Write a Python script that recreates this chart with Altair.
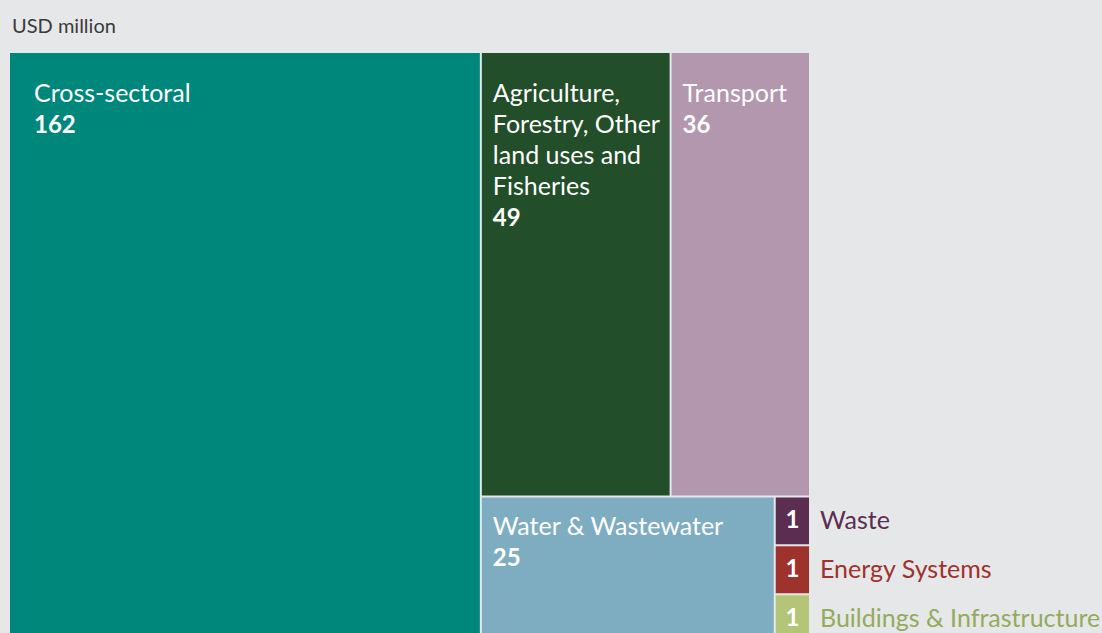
import altair as alt
import pandas as pd

# ---- data ----
sectors = ["Cross-sectoral",
           "Agriculture, Forestry, Other land uses and Fisheries",
           "Transport", "Water & Wastewater", "Waste", "Energy Systems",
           "Buildings & Infrastructure"]
display_labels = ["Cross-sectoral",
                  "Agriculture,\nForestry, Other\nland uses and\nFisheries",
                  "Transport", "Water & Wastewater", "Waste", "Energy Systems",
                  "Buildings & Infrastructure"]
values = [162, 49, 36, 25, 1, 1, 1]
colors = ["#00877b", "#224e29", "#b397ae", "#7eadc1", "#5b2d51", "#9e322d", "#b5c577"]
text_colors = ["#ffffff", "#ffffff", "#ffffff", "#ffffff", "#5b2d51", "#9e322d", "#93ab5c"]

W, H = 799, 589          # treemap size (pixels = data units)
VISIBLE_H = 580          # part of the treemap inside the window
GAP = 1                  # half of the inner gap
LINE_H = 31
FONT = "Lato"
NAME_SIZE = 25
VALUE_SIZE = 24


def squarify(vals, x0, y0, x1, y1, ratio=(1 + 5 ** 0.5) / 2):
    """d3.treemapSquarify layout."""
    rects = [None] * len(vals)
    n = len(vals)
    i0 = i1 = 0
    value = float(sum(vals))
    while i0 < n:
        dx, dy = x1 - x0, y1 - y0
        sumv = vals[i1]
        i1 += 1
        minv = maxv = sumv
        alpha = max(dy / dx, dx / dy) / (value * ratio)
        beta = sumv * sumv * alpha
        minr = max(maxv / beta, beta / minv)
        while i1 < n:
            nv = vals[i1]
            s = sumv + nv
            mn, mx = min(minv, nv), max(maxv, nv)
            beta = s * s * alpha
            nr = max(mx / beta, beta / mn)
            if nr > minr:
                break
            sumv, minv, maxv, minr = s, mn, mx, nr
            i1 += 1
        row = range(i0, i1)
        if dx < dy:
            ny = y0 + dy * sumv / value
            cx = x0
            for i in row:
                w = dx * vals[i] / sumv
                rects[i] = (cx, y0, cx + w, ny)
                cx += w
            y0 = ny
        else:
            nx = x0 + dx * sumv / value
            cy = y0
            for i in row:
                h = dy * vals[i] / sumv
                rects[i] = (x0, cy, nx, cy + h)
                cy += h
            x0 = nx
        value -= sumv
        i0 = i1
    return rects


rects = squarify(values, -GAP, -GAP, W + GAP, H + GAP)

rows = []
for name, lab, v, c, tc, (a, b, cc, d) in zip(sectors, display_labels, values,
                                              colors, text_colors, rects):
    x0, y0, x1, y1 = a + GAP, b + GAP, cc - GAP, d - GAP
    small = (x1 - x0) < 60
    nlines = lab.count("\n") + 1
    lx = x0 + (24 if x0 < 1 else 11)
    ly = y0 + (49 if y0 < 1 else 37)
    rows.append(dict(sector=name, label=lab, value=v, color=c, tcolor=tc,
                     x0=x0, y0=y0, x1=x1, y1=y1, small=small,
                     lx=lx, ly=ly, vy=ly + nlines * LINE_H,
                     cx=(x0 + x1) / 2, cy=(y0 + y1) / 2, ox=x1 + 11))
df = pd.DataFrame(rows)

xs = alt.Scale(domain=[0, W])
ys = alt.Scale(domain=[0, VISIBLE_H], reverse=True)

base = alt.Chart(df)

rect = base.mark_rect(clip=True).encode(
    x=alt.X("x0:Q", scale=xs, axis=None),
    x2="x1:Q",
    y=alt.Y("y0:Q", scale=ys, axis=None),
    y2="y1:Q",
    color=alt.Color("color:N", scale=None),
    tooltip=["sector:N", "value:Q"],
)

big = base.transform_filter("!datum.small")
small = base.transform_filter("datum.small")

names = big.mark_text(align="left", baseline="alphabetic", fontSize=NAME_SIZE,
                      font=FONT, color="white", lineBreak="\n",
                      lineHeight=LINE_H).encode(
    x=alt.X("lx:Q", scale=xs), y=alt.Y("ly:Q", scale=ys), text="label:N")

vals_big = big.mark_text(align="left", baseline="alphabetic", fontSize=VALUE_SIZE,
                         font=FONT, fontWeight="bold", color="white").encode(
    x=alt.X("lx:Q", scale=xs), y=alt.Y("vy:Q", scale=ys), text="value:Q")

vals_small = small.mark_text(align="center", baseline="middle", fontSize=VALUE_SIZE,
                             font=FONT, fontWeight="bold", color="white").encode(
    x=alt.X("cx:Q", scale=xs), y=alt.Y("cy:Q", scale=ys), text="value:Q")

names_small = small.mark_text(align="left", baseline="middle", fontSize=NAME_SIZE,
                              font=FONT).encode(
    x=alt.X("ox:Q", scale=xs), y=alt.Y("cy:Q", scale=ys), text="label:N",
    color=alt.Color("tcolor:N", scale=None))

chart = alt.layer(rect, names, vals_big, vals_small, names_small).properties(
    width=W, height=VISIBLE_H,
    autosize=alt.AutoSizeParams(type="none"),
    padding={"left": 10, "top": 53, "right": 1102 - 10 - W, "bottom": 0},
    background="#e6e7e9",
    title=alt.TitleParams("USD million", anchor="start", fontSize=20,
                          fontWeight="normal", color="#3a3a3a", font=FONT,
                          offset=16, dx=2),
).configure_view(stroke=None)

chart.save("out.html", embed_options={"renderer": "svg", "actions": False})
